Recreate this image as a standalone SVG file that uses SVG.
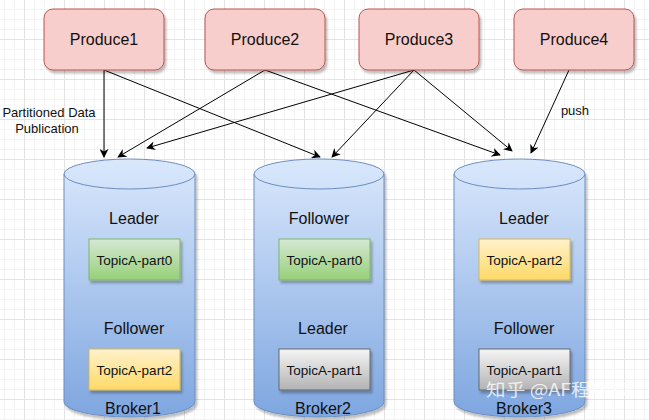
<svg xmlns="http://www.w3.org/2000/svg" width="649" height="420" viewBox="0 0 649 420">
<defs>
  <pattern id="minor" x="4" y="-1" width="10" height="10" patternUnits="userSpaceOnUse">
    <path d="M0,0.5 H10 M0.5,0 V10" fill="none" stroke="#f3f3f3" stroke-width="1"/>
  </pattern>
  <pattern id="major" x="24" y="-1" width="40" height="40" patternUnits="userSpaceOnUse">
    <path d="M0,0.5 H40 M0.5,0 V40" fill="none" stroke="#e3e3e3" stroke-width="1"/>
  </pattern>
  <linearGradient id="gCyl" x1="0" y1="0" x2="0" y2="1">
    <stop offset="0" stop-color="#dae8fc"/>
    <stop offset="1" stop-color="#7ea6e0"/>
  </linearGradient>
  <linearGradient id="gGreen" x1="0" y1="0" x2="0" y2="1">
    <stop offset="0" stop-color="#d5e8d4"/>
    <stop offset="1" stop-color="#97d077"/>
  </linearGradient>
  <linearGradient id="gYellow" x1="0" y1="0" x2="0" y2="1">
    <stop offset="0" stop-color="#fff2cc"/>
    <stop offset="1" stop-color="#ffd966"/>
  </linearGradient>
  <linearGradient id="gGray" x1="0" y1="0" x2="0" y2="1">
    <stop offset="0" stop-color="#f5f5f5"/>
    <stop offset="1" stop-color="#b3b3b3"/>
  </linearGradient>
  <filter id="shadow" x="-10%" y="-10%" width="130%" height="140%">
    <feDropShadow dx="2" dy="3" stdDeviation="1.2" flood-color="#000" flood-opacity="0.25"/>
  </filter>
  <marker id="arrow" viewBox="0 0 10 10" refX="9" refY="5" markerWidth="9" markerHeight="9" orient="auto" markerUnits="userSpaceOnUse">
    <path d="M0,0 L10,5 L0,10 L3,5 Z" fill="#000"/>
  </marker>
</defs>
<style>
  .prod { fill: #f8cecc; stroke: #b85450; stroke-width: 1; }
  .cyl { fill: url(#gCyl); stroke: #6c8ebf; stroke-width: 1; }
  .green { fill: url(#gGreen); stroke: #82b366; }
  .yellow { fill: url(#gYellow); stroke: #d6b656; }
  .gray { fill: url(#gGray); stroke: #666666; }
  .t { font-family: "Liberation Sans", Arial, sans-serif; fill: #111; text-anchor: middle; }
  .big { font-size: 16px; }
  .small { font-size: 13.5px; }
  .lbl { font-size: 13px; }
  .edge { stroke: #000; stroke-width: 1; fill: none; marker-end: url(#arrow); }
</style>
<rect width="649" height="420" fill="#ffffff"/>
<rect width="649" height="420" fill="url(#minor)"/>
<rect width="649" height="420" fill="url(#major)"/>

<g id="connectors">
  <path class="edge" d="M104,70 L104,157"/>
  <path class="edge" d="M104,70 L320,157"/>
  <path class="edge" d="M265,70 L118,157"/>
  <path class="edge" d="M265,70 L500,155"/>
  <path class="edge" d="M414,70 L147,148"/>
  <path class="edge" d="M414,70 L332,157"/>
  <path class="edge" d="M414,70 L512,151"/>
  <path class="edge" d="M569,70 L531,153"/>
  <text class="t lbl" x="49" y="117">Partitioned Data</text>
  <text class="t lbl" x="47" y="133">Publication</text>
  <text class="t lbl" x="575" y="115">push</text>
</g>

<g id="produce1">
  <rect class="prod" x="44" y="9" width="120" height="61" rx="9" filter="url(#shadow)"/>
  <text class="t big" x="104" y="45">Produce1</text>
</g>
<g id="produce2">
  <rect class="prod" x="205" y="9" width="120" height="61" rx="9" filter="url(#shadow)"/>
  <text class="t big" x="265" y="45">Produce2</text>
</g>
<g id="produce3">
  <rect class="prod" x="359" y="9" width="120" height="61" rx="9" filter="url(#shadow)"/>
  <text class="t big" x="419" y="45">Produce3</text>
</g>
<g id="produce4">
  <rect class="prod" x="514" y="9" width="120" height="61" rx="9" filter="url(#shadow)"/>
  <text class="t big" x="574" y="45">Produce4</text>
</g>

<g id="broker1">
  <path class="cyl" d="M64,174 A65.5,15 0 0 1 195,174 V402 A65.5,15 0 0 1 64,402 Z" filter="url(#shadow)"/>
  <path d="M64,174 A65.5,15 0 0 0 195,174" fill="none" stroke="#6c8ebf"/>
  <text class="t big" x="134" y="224">Leader</text>
  <rect class="green" x="89" y="239" width="91" height="41" filter="url(#shadow)"/>
  <text class="t small" x="134.5" y="265">TopicA-part0</text>
  <text class="t big" x="134" y="334">Follower</text>
  <rect class="yellow" x="89" y="349" width="91" height="41" filter="url(#shadow)"/>
  <text class="t small" x="134.5" y="375">TopicA-part2</text>
  <text class="t big" x="133" y="414">Broker1</text>
</g>

<g id="broker2">
  <path class="cyl" d="M254,174 A65,15 0 0 1 384,174 V402 A65,15 0 0 1 254,402 Z" filter="url(#shadow)"/>
  <path d="M254,174 A65,15 0 0 0 384,174" fill="none" stroke="#6c8ebf"/>
  <text class="t big" x="319" y="224">Follower</text>
  <rect class="green" x="279" y="239" width="91" height="41" filter="url(#shadow)"/>
  <text class="t small" x="324.5" y="265">TopicA-part0</text>
  <text class="t big" x="323" y="334">Leader</text>
  <rect class="gray" x="279" y="349" width="91" height="41" filter="url(#shadow)"/>
  <text class="t small" x="324.5" y="375">TopicA-part1</text>
  <text class="t big" x="323" y="414">Broker2</text>
</g>

<g id="broker3">
  <path class="cyl" d="M454,174 A65.5,15 0 0 1 585,174 V402 A65.5,15 0 0 1 454,402 Z" filter="url(#shadow)"/>
  <path d="M454,174 A65.5,15 0 0 0 585,174" fill="none" stroke="#6c8ebf"/>
  <text class="t big" x="524" y="224">Leader</text>
  <rect class="yellow" x="479" y="239" width="91" height="41" filter="url(#shadow)"/>
  <text class="t small" x="524.5" y="265">TopicA-part2</text>
  <text class="t big" x="524" y="334">Follower</text>
  <rect class="gray" x="479" y="349" width="91" height="41" filter="url(#shadow)"/>
  <text class="t small" x="524.5" y="375">TopicA-part1</text>
  <text class="t big" x="524" y="414">Broker3</text>
</g>

<g id="watermark">
  <text x="486" y="396" font-family="'Noto Sans CJK SC', 'Liberation Sans', sans-serif" font-size="17" textLength="144" lengthAdjust="spacingAndGlyphs" fill="#ffffff" fill-opacity="0.8">知乎 @AF程序猿</text>
</g>
</svg>
